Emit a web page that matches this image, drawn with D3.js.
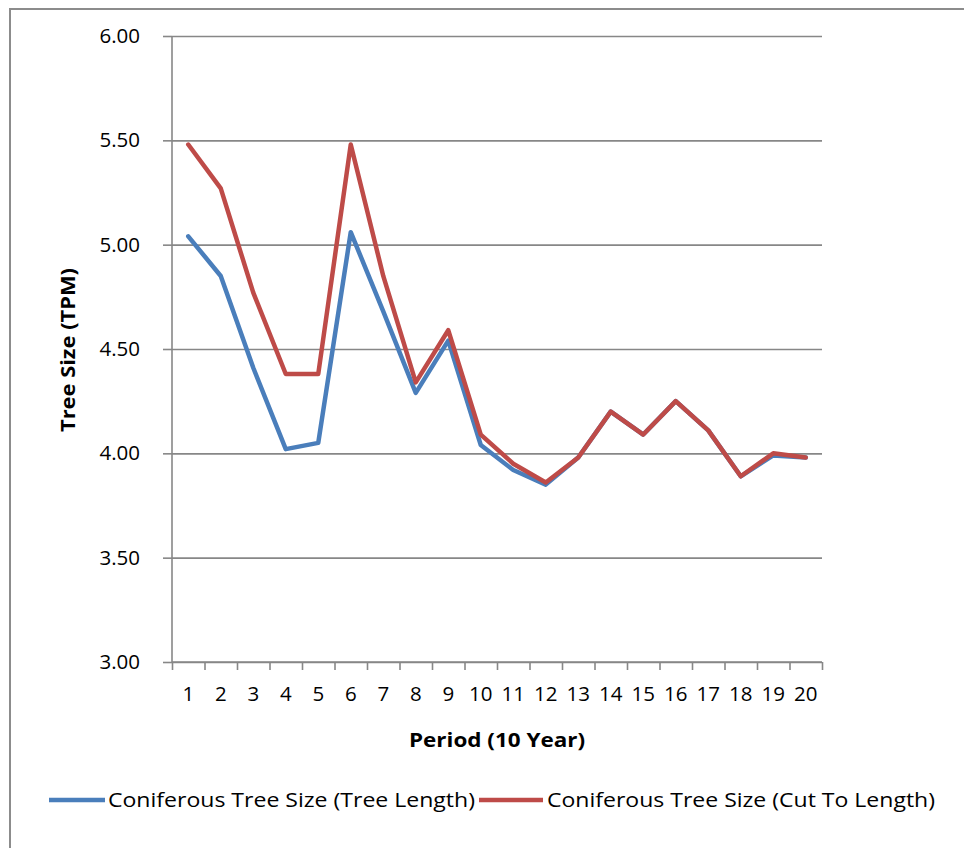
<!DOCTYPE html>
<html>
<head>
<meta charset="utf-8">
<script src="https://cdn.jsdelivr.net/npm/d3@7"></script>
<style>
  html, body { margin: 0; padding: 0; background: #fff; }
  svg { display: block; }
  text { font-family: "Open Sans", "Noto Sans", sans-serif; fill: #000; }
</style>
</head>
<body>
<svg id="chart" width="964" height="848"></svg>
<script>
// Periods (10-year steps) and average tree size per method
const periods = d3.range(1, 21);
const treeLength = [5.04, 4.85, 4.41, 4.02, 4.05, 5.06, 4.68, 4.29, 4.54, 4.04,
                    3.92, 3.85, 3.98, 4.20, 4.09, 4.25, 4.11, 3.89, 3.99, 3.98];
const cutToLength = [5.48, 5.27, 4.77, 4.38, 4.38, 5.48, 4.85, 4.34, 4.59, 4.09,
                     3.95, 3.86, 3.98, 4.20, 4.09, 4.25, 4.11, 3.89, 4.00, 3.98];
const yTicks = [3.00, 3.50, 4.00, 4.50, 5.00, 5.50, 6.00];
const seriesNames = ["Coniferous Tree Size (Tree Length)", "Coniferous Tree Size (Cut To Length)"];
const seriesColors = ["#4A7EBB", "#BE4B48"];

const svg = d3.select("#chart");
const plot = { left: 172, right: 822, top: 36, bottom: 662 };

// Outer chart frame
svg.append("rect")
  .attr("x", 10).attr("y", 9).attr("width", 990).attr("height", 900)
  .attr("fill", "none").attr("stroke", "#8c8c8c").attr("stroke-width", 2);

const x = d3.scaleBand().domain(periods).range([plot.left, plot.right]).padding(0);
const xEdge = d3.scaleLinear().domain([0, periods.length]).range([plot.left, plot.right]);
const y = d3.scaleLinear().domain([3, 6]).range([plot.bottom, plot.top]);

// Horizontal gridlines
svg.append("g")
  .attr("transform", `translate(${plot.left},0)`)
  .call(d3.axisLeft(y).tickValues(yTicks).tickSize(-(plot.right - plot.left)).tickFormat(""))
  .call(g => g.select(".domain").remove())
  .call(g => g.selectAll("line").attr("stroke", "#878787").attr("stroke-width", 1.6));

// Y axis with outward ticks and labels
svg.append("g")
  .attr("transform", `translate(${plot.left},0)`)
  .call(d3.axisLeft(y).tickValues(yTicks).tickSize(9).tickPadding(23).tickFormat(d3.format(".2f")))
  .call(g => g.select(".domain").attr("stroke", "#878787").attr("stroke-width", 1.6)
    .attr("d", `M0,${plot.top}V${plot.bottom}`))
  .call(g => g.selectAll("line").attr("stroke", "#878787").attr("stroke-width", 1.6))
  .call(g => g.selectAll("text").attr("font-size", 20.5).attr("fill", "#000"));

// X axis: tick marks on category boundaries
svg.append("g")
  .attr("transform", `translate(0,${plot.bottom})`)
  .call(d3.axisBottom(xEdge).ticks(periods.length).tickSize(8).tickFormat(""))
  .call(g => g.select(".domain").attr("stroke", "#878787").attr("stroke-width", 1.6)
    .attr("d", `M${plot.left},0H${plot.right}`))
  .call(g => g.selectAll("line").attr("stroke", "#878787").attr("stroke-width", 1.6));

// X axis category labels
svg.append("g")
  .attr("transform", `translate(0,${plot.bottom})`)
  .call(d3.axisBottom(x).tickSize(0).tickPadding(24))
  .call(g => g.select(".domain").remove())
  .call(g => g.selectAll("text").attr("font-size", 20.5).attr("fill", "#000"));

// Axis titles
svg.append("text")
  .attr("x", 497).attr("y", 747)
  .attr("text-anchor", "middle").attr("font-size", 20).attr("font-weight", "bold")
  .attr("textLength", 176).attr("lengthAdjust", "spacingAndGlyphs")
  .text("Period (10 Year)");

svg.append("text")
  .attr("transform", "translate(75,350) rotate(-90)")
  .attr("text-anchor", "middle").attr("font-size", 20).attr("font-weight", "bold")
  .attr("textLength", 164).attr("lengthAdjust", "spacingAndGlyphs")
  .text("Tree Size (TPM)");

// Series lines
const line = d3.line()
  .x((d, i) => x(periods[i]) + x.bandwidth() / 2)
  .y(d => y(d));

[treeLength, cutToLength].forEach((vals, k) => {
  svg.append("path")
    .datum(vals)
    .attr("fill", "none")
    .attr("stroke", seriesColors[k])
    .attr("stroke-width", 4.5)
    .attr("stroke-linejoin", "round")
    .attr("stroke-linecap", "round")
    .attr("d", line);
});

// Legend
const legendItems = [
  { x0: 49, x1: 105, tx: 108, tl: 367 },
  { x0: 479, x1: 543, tx: 547, tl: 388 }
];
legendItems.forEach((item, k) => {
  svg.append("line")
    .attr("x1", item.x0).attr("x2", item.x1).attr("y1", 800).attr("y2", 800)
    .attr("stroke", seriesColors[k]).attr("stroke-width", 4.5);
  svg.append("text")
    .attr("x", item.tx).attr("y", 807)
    .attr("font-size", 20)
    .attr("textLength", item.tl).attr("lengthAdjust", "spacingAndGlyphs")
    .text(seriesNames[k]);
});
</script>
</body>
</html>
